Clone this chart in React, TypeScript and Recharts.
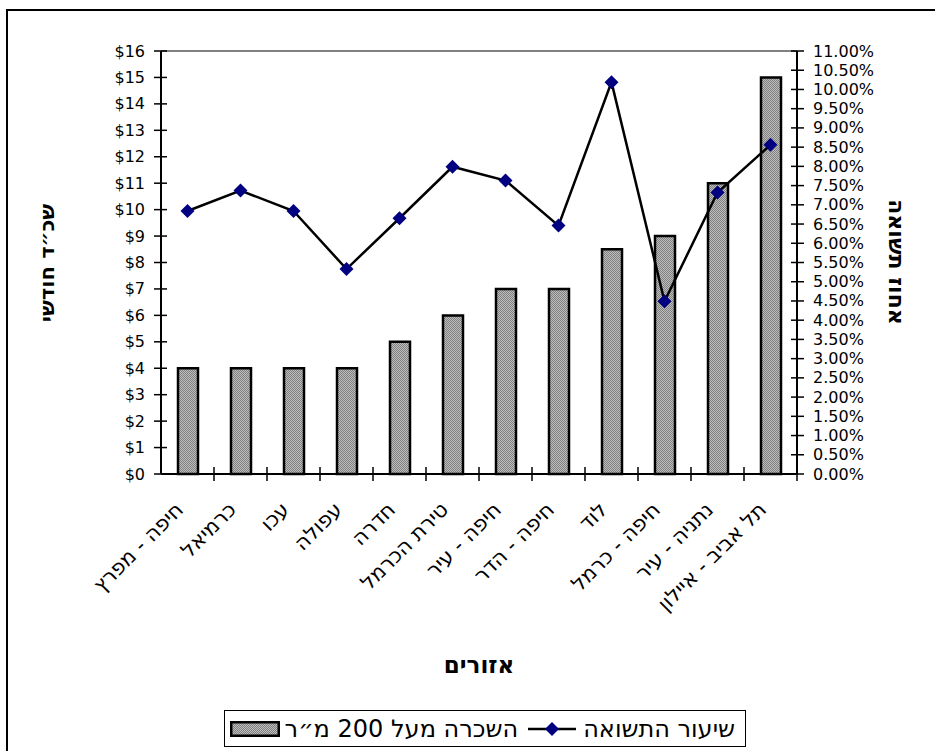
import React from "react";
import { ComposedChart, Bar, Line, XAxis, YAxis, ReferenceLine, Legend } from "recharts";

const regions = [
  "חיפה - מפרץ",
  "כרמיאל",
  "עכו",
  "עפולה",
  "חדרה",
  "טירת הכרמל",
  "חיפה - עיר",
  "חיפה - הדר",
  "לוד",
  "חיפה - כרמל",
  "נתניה - עיר",
  "תל אביב - איילון",
];
// monthly rent, $ per sqm
const rent = [4, 4, 4, 4, 5, 6, 7, 7, 8.5, 9, 11, 15];
// yield, percent
const yieldPct = [6.84, 7.37, 6.84, 5.33, 6.65, 7.99, 7.63, 6.46, 10.19, 4.49, 7.32, 8.56];

const rentTicks = [0, 1, 2, 3, 4, 5, 6, 7, 8, 9, 10, 11, 12, 13, 14, 15, 16];
const yieldTicks = [
  0, 0.5, 1, 1.5, 2, 2.5, 3, 3.5, 4, 4.5, 5, 5.5, 6, 6.5, 7, 7.5, 8, 8.5, 9, 9.5, 10, 10.5, 11,
];

const barName = "השכרה מעל 200 מ״ר";
const lineName = "שיעור התשואה";

const data = regions.map((region, i) => ({
  region,
  rent: rent[i],
  yieldPct: yieldPct[i],
}));

const FONT = "'DejaVu Sans', sans-serif";

const LeftTick = (props: any) => {
  const { x, y, payload } = props;
  return (
    <g>
      <line x1={x - 7} x2={x + 6} y1={y} y2={y} stroke="#000" strokeWidth={1.5} />
      <text x={x - 16} y={y} textAnchor="end" dominantBaseline="central" fontFamily={FONT} fontSize={16} fill="#000">
        ${payload.value}
      </text>
    </g>
  );
};

const RightTick = (props: any) => {
  const { x, y, payload } = props;
  return (
    <g>
      <line x1={x - 6} x2={x + 7} y1={y} y2={y} stroke="#000" strokeWidth={1.5} />
      <text x={x + 16} y={y} textAnchor="start" dominantBaseline="central" fontFamily={FONT} fontSize={16} fill="#000">
        {Number(payload.value).toFixed(2)}%
      </text>
    </g>
  );
};

const RegionTick = (props: any) => {
  const { x, y, payload } = props;
  const half = payload.offset || 26.5;
  return (
    <g>
      <line x1={x + half} x2={x + half} y1={y - 7} y2={y + 7} stroke="#000" strokeWidth={1.5} />
      <g transform={`translate(${x - 8}, ${y + 32}) rotate(-45)`}>
        <text x={0} y={0} textAnchor="end" dominantBaseline="central" fontFamily={FONT} fontSize={21} fill="#000">
          {payload.value}
        </text>
      </g>
    </g>
  );
};

const Diamond = (props: any) => {
  const { cx, cy, index } = props;
  if (cx == null || cy == null) return <g key={index} />;
  return (
    <polygon
      key={index}
      points={`${cx},${cy - 7} ${cx + 7},${cy} ${cx},${cy + 7} ${cx - 7},${cy}`}
      fill="#000080"
    />
  );
};

const LegendBox = (props: any) => {
  const items = [...(props.payload || [])].reverse();
  return (
    <div
      dir="rtl"
      style={{
        display: "flex",
        alignItems: "center",
        border: "1.5px solid #000",
        boxSizing: "border-box",
        height: 37,
        padding: "0 10px",
        background: "#fff",
        fontFamily: FONT,
        fontSize: 24,
        color: "#000",
        whiteSpace: "nowrap",
      }}
    >
      {items.map((item: any) => (
        <div key={item.value} style={{ display: "flex", alignItems: "center" }}>
          <span>{item.value}</span>
          {item.dataKey === "yieldPct" ? (
            <svg width={48} height={16} style={{ margin: "0 7px 0 10px" }}>
              <line x1={0} x2={48} y1={8} y2={8} stroke="#000" strokeWidth={2.5} />
              <polygon points="24,1 31,8 24,15 17,8" fill="#000080" />
            </svg>
          ) : (
            <svg width={50} height={16} style={{ marginRight: 5 }}>
              <rect x={1.25} y={1.25} width={47.5} height={13.5} fill="url(#dither)" stroke="#000" strokeWidth={2.5} />
            </svg>
          )}
        </div>
      ))}
    </div>
  );
};

export default function App() {
  return (
    <div style={{ position: "absolute", left: 0, top: 0, width: 935, height: 751, background: "#fff", overflow: "hidden" }}>
      <div
        style={{
          position: "absolute",
          left: 6,
          top: 9,
          right: 0,
          bottom: 0,
          borderLeft: "2px solid #000",
          borderTop: "2px solid #000",
        }}
      />
      <ComposedChart
        width={935}
        height={751}
        data={data}
        margin={{ top: 51, right: 0, bottom: 77, left: 0 }}
        barCategoryGap={0}
      >
        <defs>
          <pattern id="dither" width={2} height={2} patternUnits="userSpaceOnUse">
            <rect x={0} y={0} width={2} height={2} fill="#bdbdbd" />
            <rect x={0} y={0} width={1} height={1} fill="#808080" />
            <rect x={1} y={1} width={1} height={1} fill="#808080" />
          </pattern>
        </defs>
        <XAxis
          dataKey="region"
          height={200}
          interval={0}
          tickSize={0}
          tickMargin={0}
          tickLine={false}
          axisLine={{ stroke: "#000", strokeWidth: 2 }}
          tick={<RegionTick />}
        />
        <YAxis
          yAxisId="left"
          orientation="left"
          width={161}
          domain={[0, 16]}
          ticks={rentTicks}
          interval={0}
          tickSize={0}
          tickMargin={0}
          tickLine={false}
          axisLine={{ stroke: "#000", strokeWidth: 2 }}
          tick={<LeftTick />}
        />
        <YAxis
          yAxisId="right"
          orientation="right"
          width={138}
          domain={[0, 11]}
          ticks={yieldTicks}
          interval={0}
          tickSize={0}
          tickMargin={0}
          tickLine={false}
          axisLine={{ stroke: "#000", strokeWidth: 2 }}
          tick={<RightTick />}
        />
        <ReferenceLine yAxisId="left" y={16} stroke="#808080" strokeWidth={2} />
        <Bar
          yAxisId="left"
          dataKey="rent"
          name={barName}
          barSize={20}
          fill="url(#dither)"
          stroke="#000"
          strokeWidth={2.5}
          isAnimationActive={false}
        />
        <Line
          yAxisId="right"
          dataKey="yieldPct"
          name={lineName}
          type="linear"
          stroke="#000"
          strokeWidth={2.5}
          dot={(p: any) => <Diamond key={p.index} {...p} />}
          activeDot={false}
          isAnimationActive={false}
        />
        <Legend
          layout="horizontal"
          align="center"
          verticalAlign="middle"
          wrapperStyle={{ left: 224, top: 710, width: 522 }}
          content={<LegendBox />}
        />
      </ComposedChart>
      <div
        dir="rtl"
        style={{
          position: "absolute",
          left: 47,
          top: 263,
          transform: "translate(-50%, -50%) rotate(-90deg)",
          fontFamily: FONT,
          fontWeight: "bold",
          fontSize: 21,
          whiteSpace: "nowrap",
        }}
      >
        שכ״ד חודשי
      </div>
      <div
        dir="rtl"
        style={{
          position: "absolute",
          left: 896,
          top: 262,
          transform: "translate(-50%, -50%) rotate(90deg)",
          fontFamily: FONT,
          fontWeight: "bold",
          fontSize: 22,
          whiteSpace: "nowrap",
        }}
      >
        אחוז תשואה
      </div>
      <div
        dir="rtl"
        style={{
          position: "absolute",
          left: 479,
          top: 665,
          transform: "translate(-50%, -50%)",
          fontFamily: FONT,
          fontWeight: "bold",
          fontSize: 23,
          whiteSpace: "nowrap",
        }}
      >
        אזורים
      </div>
    </div>
  );
}
